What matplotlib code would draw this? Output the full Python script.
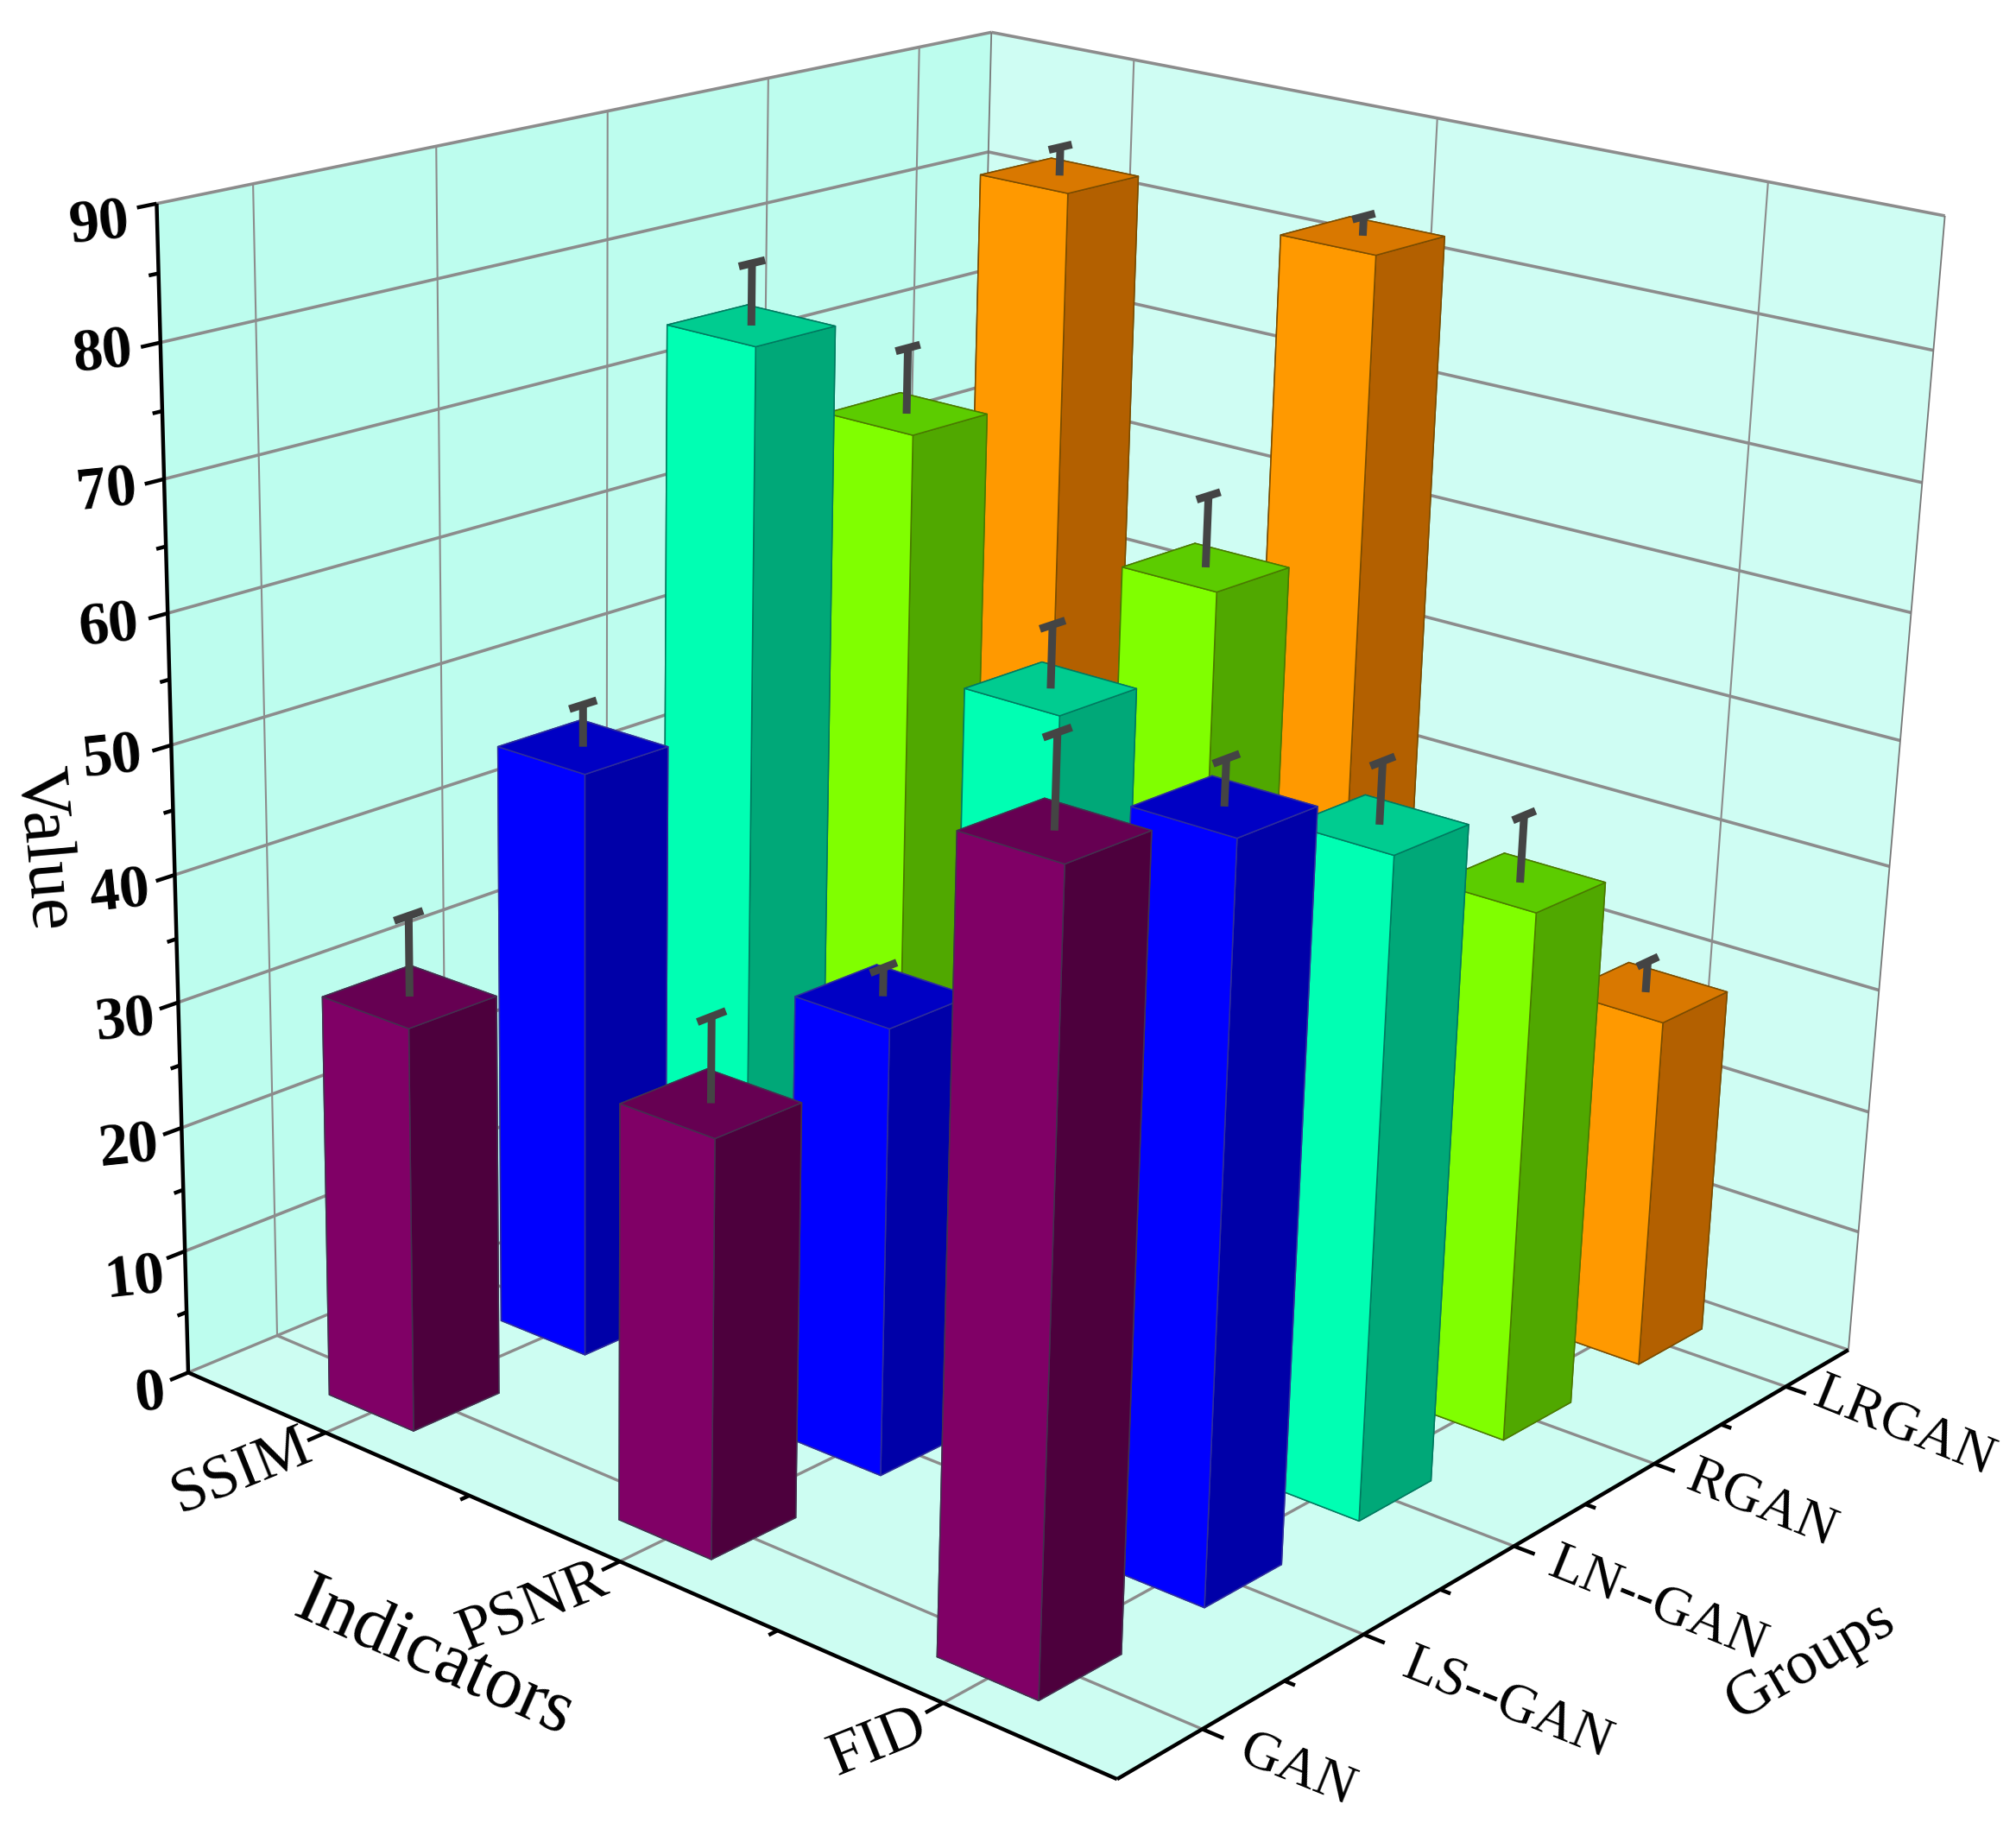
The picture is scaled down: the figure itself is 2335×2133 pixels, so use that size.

import numpy as np, matplotlib
matplotlib.use('Agg')
import matplotlib.pyplot as plt
from mpl_toolkits.mplot3d.art3d import Poly3DCollection

plt.rcParams['font.family'] = ['Liberation Serif', 'DejaVu Serif']

indicators = ['SSIM', 'PSNR', 'FID']
groups = ['GAN', 'LS--GAN', 'LN--GAN', 'RGAN', 'LRGAN']
ssim_values = [32.0, 46.9, 76.0, 65.7, 81.9]
psnr_values = [32.2, 35.1, 54.2, 59.6, 82.2]
fid_values = [59.9, 57.0, 51.1, 42.0, 28.3]
ssim_errors = [6.3, 3.3, 4.8, 5.3, 2.3]
psnr_errors = [6.5, 2.2, 4.9, 5.6, 1.5]
fid_errors = [6.7, 3.4, 4.7, 5.2, 2.5]
z_ticks = list(range(0, 100, 10))
z_minor = list(range(5, 95, 10))
front_colors = ['#800066', '#0000ff', '#00ffb3', '#80ff00', '#ff9900']
side_colors = ['#4d003d', '#0000a8', '#00a878', '#50a800', '#b36000']
top_colors = ['#660052', '#0000c4', '#00cc90', '#5ccc00', '#d97800']
edge_colors = ['#44304f', '#2e2e9c', '#007a60', '#4a7a00', '#7a4c00']

W_PX, H_PX = 2335, 2133
XLIM, YLIM, ZLIM = (0.5, 3.5), (0.5, 5.5), (0, 90)
BAR_WX, BAR_WY = 0.30, 0.49
GRID = '#8c8c8c'

fig = plt.figure(figsize=(W_PX / 100, H_PX / 100), dpi=100, facecolor='white')
ax = fig.add_axes([0.1, 0.1, 0.5, 0.5 * W_PX / H_PX], projection='3d')
ax.computed_zorder = False
ax.set_axis_off()
ax.view_init(elev=19.3403, azim=-50.819, roll=-1.713)
ax.set_proj_type('persp', focal_length=0.4859)
ax.set_box_aspect((1.0036, 1.0033, 1))


def set_limits():
    ax.set_xlim(*XLIM, view_margin=0)
    ax.set_ylim(*YLIM, view_margin=0)
    ax.set_zlim(*ZLIM, view_margin=0)


set_limits()

# Place the axes so the cube lands where it does in the reference.
SCALE, CX, CY = 12858.23, 1212.83, 934.44
ax.apply_aspect()
wold = ax.get_position().width * W_PX
lold = ax.get_position().x0 * W_PX
bold = ax.get_position().y0 * H_PX
t0, t1 = ax.transData.transform([[0, 0], [0.01, 0.01]])
k = (t1[0] - t0[0]) / 0.01 / wold
a, b = (t0[0] - lold) / wold, (t0[1] - bold) / wold
W = SCALE / k
ax.set_position([(CX - W * a) / W_PX, (H_PX - CY - W * b) / H_PX, W / W_PX, W / H_PX])

x0, x1 = XLIM
y0, y1 = YLIM
z0, z1 = ZLIM


def wall(verts, color):
    p = Poly3DCollection([verts], facecolors=color, edgecolors='none', zorder=1)
    ax.add_collection3d(p)


wall([(x0, y0, z0), (x0, y1, z0), (x0, y1, z1), (x0, y0, z1)], '#bdfdee')
wall([(x0, y1, z0), (x1, y1, z0), (x1, y1, z1), (x0, y1, z1)], '#cffdf3')
wall([(x0, y0, z0), (x1, y0, z0), (x1, y1, z0), (x0, y1, z0)], '#cdfdf2')


def seg(p, q, **kw):
    ax.plot([p[0], q[0]], [p[1], q[1]], [p[2], q[2]], solid_capstyle='butt', **kw)


grid_h = dict(color=GRID, lw=2.6, zorder=2)
grid_v = dict(color=GRID, lw=1.5, zorder=2)
grid_f = dict(color=GRID, lw=2.4, zorder=2)
for z in z_ticks[1:]:
    seg((x0, y0, z), (x0, y1, z), **grid_h)
    seg((x0, y1, z), (x1, y1, z), **grid_h)
for j in range(len(groups)):
    seg((x0, j + 1, z0), (x0, j + 1, z1), **grid_v)
    seg((x0, j + 1, z0), (x1, j + 1, z0), **grid_f)
for i in range(len(indicators)):
    seg((i + 1, y1, z0), (i + 1, y1, z1), **grid_v)
    seg((i + 1, y0, z0), (i + 1, y1, z0), **grid_f)
seg((x0, y1, z0), (x0, y1, z1), color='#777777', lw=1.3, zorder=2)
seg((x1, y1, z0), (x1, y1, z1), color='#777777', lw=1.3, zorder=2)
seg((x0, y0, z0), (x0, y1, z0), **grid_f)
seg((x0, y1, z0), (x1, y1, z0), **grid_f)

axis = dict(color='black', lw=3.2, zorder=3)
seg((x0, y0, z0), (x0, y0, z1), **axis)
seg((x0, y0, z0), (x1, y0, z0), **axis)
seg((x1, y0, z0), (x1, y1, z0), **axis)
tick = dict(color='black', lw=3.2, zorder=3)
for z in z_ticks:
    seg((x0, y0, z), (x0, y0 - 0.10, z), **tick)
for z in z_minor:
    seg((x0, y0, z), (x0, y0 - 0.05, z), **tick)
for i in range(len(indicators)):
    seg((i + 1, y0, z0), (i + 1, y0 - 0.10, z0), **tick)
for xm in (1.5, 2.5):
    seg((xm, y0, z0), (xm, y0 - 0.05, z0), **tick)
for j in range(len(groups)):
    seg((x1, j + 1, z0), (x1 + 0.06, j + 1, z0), **tick)
for ym in (1.5, 2.5, 3.5, 4.5):
    seg((x1, ym, z0), (x1 + 0.03, ym, z0), **tick)

values = [ssim_values, psnr_values, fid_values]
errors = [ssim_errors, psnr_errors, fid_errors]
order = 10
for i in range(len(indicators)):
    for j in reversed(range(len(groups))):
        v, e = values[i][j], errors[i][j]
        x, y = i + 1, j + 1
        face = [top_colors[j], top_colors[j], front_colors[j], side_colors[j], front_colors[j], side_colors[j]]
        c = ax.bar3d(x - BAR_WX / 2, y - BAR_WY / 2, 0, BAR_WX, BAR_WY, v, color=face, shade=False,
                     edgecolors=edge_colors[j], linewidths=1.1)
        c.set_zorder(order)
        err = dict(color='#444444', lw=6.5, zorder=order + 0.5)
        seg((x, y, v), (x, y, v + e), **err)
        seg((x, y - 0.08, v + e), (x, y + 0.08, v + e), **err)
        order += 1

set_limits()


def label(px, py, s, size, rot, weight='normal'):
    fig.text(px / W_PX, 1 - py / H_PX, s, fontsize=size, rotation=rot, ha='center', va='center',
             rotation_mode='anchor', fontweight=weight, color='black')


sc = W_PX / 1568
z_label_pos = [(117, 1085), (105, 995), (100, 893), (97, 795), (93, 695), (87, 590), (85, 488), (83, 383), (80, 275), (77, 175)]
for z, (px, py) in zip(z_ticks, z_label_pos):
    label(px * sc, py * sc, str(z), 50, 6, 'bold')
x_label_pos = [(188, 1145), (415, 1250), (683, 1355)]
for s, (px, py) in zip(indicators, x_label_pos):
    label(px * sc, py * sc, s, 52, 22)
y_label_pos = [(1009, 1377), (1172, 1325), (1289, 1248), (1370, 1170), (1481, 1110)]
for s, (px, py) in zip(groups, y_label_pos):
    label(px * sc, py * sc, s, 46, -22)
label(338 * sc, 1290 * sc, 'Indicators', 62, -24)
label(1408 * sc, 1292 * sc, 'Groups', 52, 30)
label(33 * sc, 660 * sc, 'Value', 60, -85)

fig.savefig('out.png', dpi=100)
